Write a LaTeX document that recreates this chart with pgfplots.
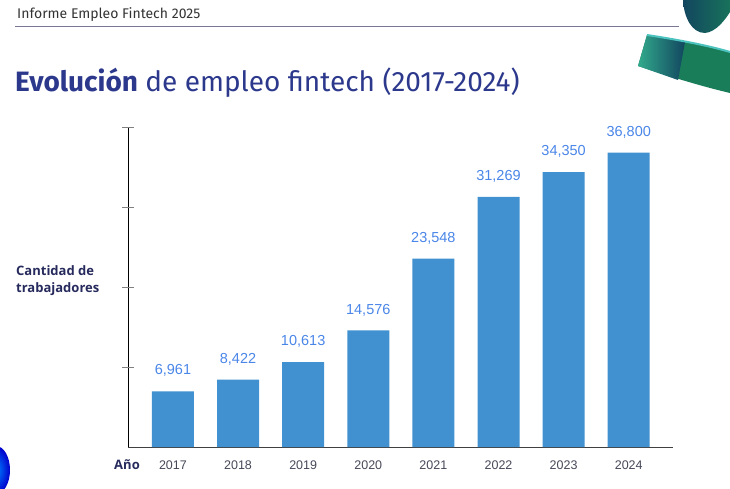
\documentclass[border=0pt]{standalone}
\usepackage{fontspec}
\usepackage{pgfplots}
\pgfplotsset{compat=1.18}
\setmainfont{Liberation Sans}
\newfontfamily\ubu{Fira Sans}
\newfontfamily\osans{Open Sans}
\definecolor{barblue}{RGB}{65,145,208}
\definecolor{valblue}{RGB}{74,134,232}
\definecolor{navy}{RGB}{38,42,92}
\definecolor{titleblue}{RGB}{44,56,140}
\definecolor{ticklab}{RGB}{70,72,88}
\definecolor{hline}{RGB}{120,120,150}
\definecolor{dteal}{RGB}{18,70,95}
\definecolor{bgreen}{RGB}{26,125,90}
\definecolor{lteal}{RGB}{50,170,140}
\begin{document}
\begin{tikzpicture}[x=1pt,y=1pt]
\useasboundingbox (0,0) rectangle (730,488);
% decorations
\shade[left color=dteal, right color=bgreen!80!dteal] (683,488) .. controls (684,470) and (692,455) .. (705,455) .. controls (716,456) and (725,468) .. (730,476) -- (730,488) -- cycle;
\fill[bgreen] (647,453) .. controls (680,448) and (710,442) .. (730,436) -- (730,395) .. controls (700,402) and (665,413) .. (638,422) -- cycle;
\shade[left color=lteal, right color=dteal] (647,453) -- (685,446) -- (678,408) -- (638,422) -- cycle;
\draw[cyan!60!green!70, line width=2] (647,453) .. controls (680,448) and (710,442) .. (730,436);
\shade[inner color=blue!50!cyan, outer color=blue!80!black] (-4,18) ellipse [x radius=14, y radius=24];
% header
\node[anchor=base west, inner sep=0, font=\ubu\fontsize{14}{16}\selectfont, text=black!80] at (17,469.5) {Informe Empleo Fintech 2025};
\draw[hline, line width=1.5] (15,461.5) -- (679,461.5);
\node[anchor=base west, inner sep=0, font=\ubu\fontsize{28}{32}\selectfont, text=titleblue] at (15,396) {\textbf{Evolución} de empleo fintech (2017-2024)};
\node[anchor=base west, inner sep=0, font=\osans\bfseries\fontsize{13}{18}\selectfont, text=navy] at (16,213) {Cantidad de};
\node[anchor=base west, inner sep=0, font=\osans\bfseries\fontsize{13}{18}\selectfont, text=navy] at (16,195.5) {trabajadores};
\node[anchor=base east, inner sep=0, font=\osans\bfseries\fontsize{13}{18}\selectfont, text=navy] at (140,19) {Año};
\begin{axis}[
  at={(128pt,41pt)}, anchor=south west,
  scale only axis, width=545pt, height=320pt,
  xmin=-0.69, xmax=7.68, ymin=0, ymax=40000,
  axis lines=left, axis line style={-, line width=1pt},
  x axis line style={draw=black!75},
  y axis line style={draw=black},
  ybar, bar width=42pt,
  xtick={0,...,7},
  xticklabels={2017,2018,2019,2020,2021,2022,2023,2024},
  tick align=inside, major tick length=6pt,
  xtick style={color=ticklab, line width=1pt},
  ytick=\empty,
  extra y ticks={10000,20000,30000,40000},
  extra y tick labels={},
  extra y tick style={tick align=center, major tick length=12pt, color=black, line width=1pt},
  xticklabel style={font=\fontsize{12.5}{14}\selectfont, text=ticklab, yshift=-10pt},
  /pgf/number format/assume math mode=true,
  /pgf/number format/1000 sep={,},
  nodes near coords,
  nodes near coords style={font=\fontsize{14.5}{16}\selectfont, text=valblue, yshift=11pt},
  clip=false,
]
\addplot[fill=barblue, draw=none] coordinates {(0,6961) (1,8422) (2,10613) (3,14576) (4,23548) (5,31269) (6,34350) (7,36800)};
\end{axis}
\end{tikzpicture}
\end{document}
